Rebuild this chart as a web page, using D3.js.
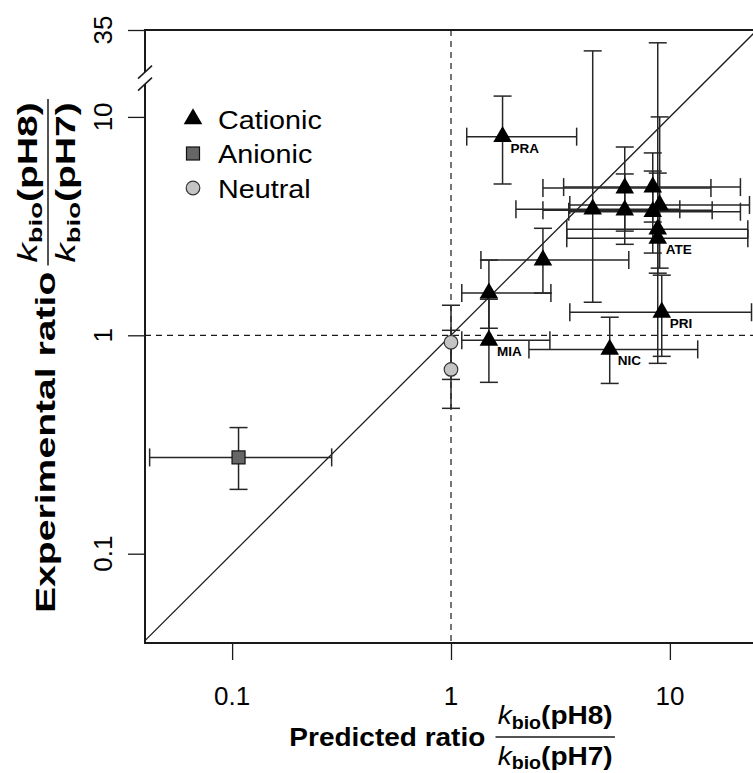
<!DOCTYPE html>
<html>
<head>
<meta charset="utf-8">
<script src="https://cdn.jsdelivr.net/npm/d3@7"></script>
<style>
  body { margin: 0; background: #fff; }
  svg { display: block; font-family: Arial, "Liberation Sans", Helvetica, sans-serif; }
</style>
</head>
<body>
<div id="vis"></div>
<script>
// data (ratios kbio(pH8)/kbio(pH7))
const compound = ['', '', '', 'MIA', '', '', '', '', '', '', '', '', '', 'ATE', 'PRI', 'NIC', 'PRA'];
const charge = ['Anionic', 'Neutral', 'Neutral', 'Cationic', 'Cationic', 'Cationic', 'Cationic', 'Cationic',
  'Cationic', 'Cationic', 'Cationic', 'Cationic', 'Cationic', 'Cationic', 'Cationic', 'Cationic', 'Cationic'];
const predicted     = [0.107, 1.0, 1.0, 1.49, 1.49, 2.63, 4.44, 6.22, 6.22, 8.35, 8.98, 8.35, 8.80, 8.80, 9.18, 5.31, 1.72];
const predictedLow  = [0.042, 1.0, 1.0, 1.12, 1.12, 1.37, 1.98, 2.63, 2.63, 3.27, 3.49, 3.45, 3.38, 3.38, 3.49, 2.27, 1.18];
const predictedHigh = [0.285, 1.0, 1.0, 2.83, 2.86, 6.49, 11.1, 15.4, 15.6, 21.0, 23.1, 21.0, 22.7, 22.7, 23.6, 13.4, 3.75];
const experimental     = [0.276, 0.929, 0.698, 0.949, 1.56, 2.21, 3.78, 4.72, 3.74, 4.77, 3.95, 3.68, 3.06, 2.78, 1.275, 0.862, 8.12];
const experimentalLow  = [0.197, 0.628, 0.463, 0.609, 1.077, 1.56, 1.417, 3.00, 2.61, 3.30, 2.03, 2.38, 1.925, 0.744, 0.801, 0.602, 4.93];
const experimentalHigh = [0.378, 1.373, 1.054, 1.463, 2.21, 3.09, 25.9, 7.28, 5.48, 6.84, 10.0, 5.65, 29.1, 5.53, 1.885, 1.21, 13.5];

const xTicks = [0.1, 1, 10];
const yTicks = [0.1, 1, 10, 35];
const legendLabels = ['Cationic', 'Anionic', 'Neutral'];
const axisBreak = 17.5;

const W = 753, H = 773;
const margin = {top: 30, left: 145, bottom: 130},
  width = 612,
  height = H - margin.top - margin.bottom;

const svg = d3.select('#vis').append('svg')
  .attr('width', W).attr('height', H)
  .attr('viewBox', [0, 0, W, H].join(' '));

const x = d3.scaleLog().domain([0.04, 25]).range([margin.left, margin.left + width]);
// plain log scale of the frame, used for the 1:1 line
const yBase = d3.scaleLog().domain([0.039, 25]).range([margin.top + height, margin.top]);
// broken axis: 10..35 squeezed into the space of 10..25
const y = d3.scaleLog().domain([0.039, 10, 35]).range([yBase(0.039), yBase(10), yBase(25)]);

const ink = '#1a1a1a';
const pLeft = margin.left, pRight = margin.left + width, pTop = margin.top, pBottom = margin.top + height;

// frame
svg.append('line').attr('x1', pLeft).attr('x2', pRight).attr('y1', pBottom).attr('y2', pBottom)
  .attr('stroke', ink).attr('stroke-width', 2);
svg.append('line').attr('x1', pLeft).attr('x2', pRight).attr('y1', pTop).attr('y2', pTop)
  .attr('stroke', ink).attr('stroke-width', 2);
svg.append('line').attr('x1', pRight).attr('x2', pRight).attr('y1', pTop).attr('y2', pBottom)
  .attr('stroke', ink).attr('stroke-width', 2);
let yb = y(axisBreak);
svg.append('line').attr('x1', pLeft).attr('x2', pLeft).attr('y1', pTop - 1).attr('y2', yb - 6)
  .attr('stroke', ink).attr('stroke-width', 2);
svg.append('line').attr('x1', pLeft).attr('x2', pLeft).attr('y1', yb + 6).attr('y2', pBottom + 1)
  .attr('stroke', ink).attr('stroke-width', 2);
[-6, 6].forEach(function(o) {
  svg.append('line')
    .attr('x1', pLeft - 7).attr('y1', yb + o + 6.5)
    .attr('x2', pLeft + 7).attr('y2', yb + o - 6.5)
    .attr('stroke', ink).attr('stroke-width', 1.5);
});

// x axis ticks
svg.append('g')
  .attr('transform', 'translate(0,' + pBottom + ')')
  .call(d3.axisBottom(x).tickValues(xTicks).tickSize(17).tickFormat(''))
  .call(g => g.select('.domain').remove())
  .call(g => g.selectAll('line').attr('stroke', ink).attr('stroke-width', 1.3));
svg.append('g').selectAll('text').data(xTicks).join('text')
  .attr('x', d => x(d)).attr('y', pBottom + 62)
  .attr('text-anchor', 'middle').attr('font-size', 26)
  .text(d => String(d));

// y axis ticks
svg.append('g')
  .attr('transform', 'translate(' + pLeft + ',0)')
  .call(d3.axisLeft(y).tickValues(yTicks).tickSize(17).tickFormat(''))
  .call(g => g.select('.domain').remove())
  .call(g => g.selectAll('line').attr('stroke', ink).attr('stroke-width', 1.3));
svg.append('g').selectAll('text').data(yTicks).join('text')
  .attr('transform', d => 'translate(' + (pLeft - 33) + ',' + y(d) + ') rotate(-90)')
  .attr('text-anchor', 'middle').attr('font-size', 26)
  .text(d => String(d));

// reference lines
svg.append('line').attr('x1', x(1)).attr('x2', x(1)).attr('y1', pTop).attr('y2', pBottom)
  .attr('stroke', ink).attr('stroke-width', 1.2).attr('stroke-dasharray', '6,5');
svg.append('line').attr('x1', pLeft).attr('x2', pRight).attr('y1', y(1)).attr('y2', y(1))
  .attr('stroke', ink).attr('stroke-width', 1.2).attr('stroke-dasharray', '6,5');
svg.append('line')
  .attr('x1', x(0.04)).attr('y1', yBase(0.04))
  .attr('x2', x(25)).attr('y2', yBase(25))
  .attr('stroke', ink).attr('stroke-width', 1.3);

// error bars
const idx = d3.range(predicted.length);
const cap = 9;
const bars = svg.append('g').attr('stroke', '#262626').attr('stroke-width', 1.5).attr('fill', 'none');
idx.forEach(function(i) {
  let px = x(predicted[i]), py = y(experimental[i]);
  let y0 = y(experimentalLow[i]), y1 = y(experimentalHigh[i]);
  bars.append('line').attr('x1', px).attr('x2', px).attr('y1', y0).attr('y2', y1);
  bars.append('line').attr('x1', px - cap).attr('x2', px + cap).attr('y1', y0).attr('y2', y0);
  bars.append('line').attr('x1', px - cap).attr('x2', px + cap).attr('y1', y1).attr('y2', y1);
  if (predictedHigh[i] > predictedLow[i]) {
    let x0 = x(predictedLow[i]), x1 = x(predictedHigh[i]);
    bars.append('line').attr('x1', x0).attr('x2', x1).attr('y1', py).attr('y2', py);
    bars.append('line').attr('x1', x0).attr('x2', x0).attr('y1', py - cap).attr('y2', py + cap);
    bars.append('line').attr('x1', x1).attr('x2', x1).attr('y1', py - cap).attr('y2', py + cap);
  }
});

// point markers
function marker(sel, type) {
  if (type === 'Cationic') {
    sel.append('path').attr('d', d3.symbol(d3.symbolTriangle, 150)()).attr('fill', '#000');
  } else if (type === 'Anionic') {
    sel.append('rect').attr('x', -6.5).attr('y', -6.5).attr('width', 13).attr('height', 13)
      .attr('fill', '#666').attr('stroke', '#111').attr('stroke-width', 1.2);
  } else {
    sel.append('circle').attr('r', 6.8)
      .attr('fill', '#c4c4c4').attr('stroke', '#333').attr('stroke-width', 1.2);
  }
}
idx.forEach(function(i) {
  let g = svg.append('g').attr('transform', 'translate(' + x(predicted[i]) + ',' + y(experimental[i]) + ')');
  marker(g, charge[i]);
});

// compound labels
svg.append('g').selectAll('text').data(idx.filter(i => compound[i] !== '')).join('text')
  .attr('x', i => x(predicted[i]) + 8)
  .attr('y', i => y(experimental[i]) + 16)
  .attr('font-size', 13.5).attr('font-weight', 'bold')
  .text(i => compound[i]);

// legend
const legend = svg.append('g').selectAll('g').data(legendLabels).join('g')
  .attr('transform', (d, i) => 'translate(193,' + (119 + i * 34.5) + ')');
legend.each(function(d) { marker(d3.select(this), d); });
legend.append('text').attr('font-size', 25)
  .attr('transform', 'translate(25,9.5) scale(1.15,1)').text(d => d);

// axis titles with the kbio fraction
function ratioTitle(g, prefix, fs, gap, dyPrefix, dyNum, dyDen) {
  let t = g.append('text').attr('font-size', fs).attr('font-weight', 'bold')
    .attr('y', dyPrefix).text(prefix);
  let prefixW = t.node().getComputedTextLength();
  let fx = prefixW + gap;
  function part(ph, baseY) {
    let tx = g.append('text').attr('x', fx).attr('y', baseY).attr('font-size', fs);
    tx.append('tspan').attr('font-style', 'italic').text('k');
    tx.append('tspan').attr('font-weight', 'bold').attr('font-size', 0.7 * fs)
      .attr('dy', 0.18 * fs).text('bio');
    tx.append('tspan').attr('font-weight', 'bold').attr('dy', -0.18 * fs).text('(' + ph + ')');
    return tx.node().getComputedTextLength();
  }
  let w1 = part('pH8', dyNum);
  let w2 = part('pH7', dyDen);
  let fw = Math.max(w1, w2);
  g.append('line').attr('x1', fx - 2).attr('x2', fx + fw + 2).attr('y1', 0).attr('y2', 0)
    .attr('stroke', ink).attr('stroke-width', 1.5);
  return fx + fw;
}

let xt = svg.append('g');
let xw = ratioTitle(xt, 'Predicted ratio', 25, 11, 9, -13, 28);
xt.attr('transform', 'translate(' + ((pLeft + pRight) / 2 - xw * 1.12 / 2) + ',' + (pBottom + 94) + ') scale(1.12,1)');

let yt = svg.append('g');
ratioTitle(yt, 'Experimental ratio', 27, 6, 7, -11, 27);
yt.attr('transform', 'translate(48,' + (pBottom - 30) + ') rotate(-90) scale(1.45,1)');
</script>
</body>
</html>
